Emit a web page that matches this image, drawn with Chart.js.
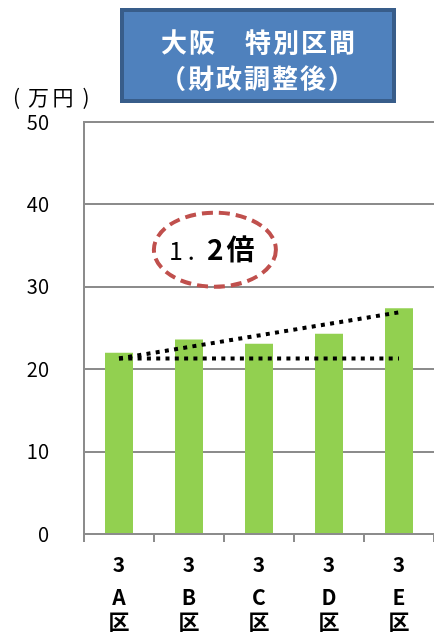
<!DOCTYPE html>
<html><head><meta charset="utf-8">
<script src="https://cdn.jsdelivr.net/npm/chart.js@4"></script>
<style>html,body{margin:0;padding:0;background:#fff;overflow:hidden}#wrap{width:434px;height:633px}</style>
</head><body><div id="wrap"><canvas id="c" width="434" height="633"></canvas></div>
<script>
const categories = ['A', 'B', 'C', 'D', 'E'];
const catPrefix = '3';
const catSuffix = '区';
const values = [22.0, 23.6, 23.1, 24.3, 27.4];
const flatLine = [21.3, 21.3, 21.3, 21.3, 21.3];
const trendLine = [21.3, null, null, null, 26.9];
const yTicks = [0, 10, 20, 30, 40, 50];
const titleLines = ['大阪\u3000特別区間', '（財政調整後）'];
const unitParts = ['(', '万', '円', ')'];
const ratioMain = '1.';
const ratioBold = '2倍';

const CJK = '"Noto Sans CJK JP", "DejaVu Sans", sans-serif';

const decor = {
  id: 'decor',
  afterDatasetsDraw(chart) {
    const ctx = chart.ctx;
    const x = chart.scales.x, y = chart.scales.y;
    const cx = x.getPixelForValue(1.37), cy = y.getPixelForValue(34.5);
    ctx.save();
    ctx.beginPath();
    ctx.ellipse(cx, cy, 61, 37, 0, 0, Math.PI * 2);
    ctx.strokeStyle = '#C0504D';
    ctx.lineWidth = 4;
    ctx.setLineDash([11, 6]);
    ctx.stroke();
    ctx.setLineDash([]);
    ctx.fillStyle = '#000';
    ctx.textBaseline = 'middle';
    ctx.textAlign = 'left';
    ctx.font = '400 25px ' + CJK;
    ctx.letterSpacing = '5px';
    ctx.fillText(ratioMain, cx - 46, cy + 1);
    ctx.font = '700 28px ' + CJK;
    ctx.letterSpacing = '3px';
    ctx.fillText(ratioBold, cx - 8, cy);
    ctx.restore();
  },
  afterDraw(chart) {
    const ctx = chart.ctx;
    ctx.save();
    ctx.fillStyle = '#4F81BD';
    ctx.fillRect(121, 9, 274, 93);
    ctx.strokeStyle = '#385D8A';
    ctx.lineWidth = 4;
    ctx.strokeRect(122, 10, 272, 91);
    ctx.fillStyle = '#fff';
    ctx.font = '700 26px ' + CJK;
    ctx.letterSpacing = '2px';
    ctx.textAlign = 'center';
    ctx.textBaseline = 'middle';
    ctx.fillText(titleLines[0], 259, 42);
    ctx.fillText(titleLines[1], 258, 78);
    ctx.fillStyle = '#000';
    ctx.letterSpacing = '0px';
    ctx.font = '400 21px ' + CJK;
    const ux = [16.5, 38.5, 63, 86];
    unitParts.forEach((t, i) => ctx.fillText(t, ux[i], 97));
    ctx.restore();
  }
};

new Chart(document.getElementById('c'), {
  type: 'bar',
  data: {
    labels: categories,
    datasets: [
      { type: 'line', data: flatLine, borderColor: '#000', borderWidth: 4, borderDash: [4, 5.3], pointRadius: 0, fill: false, order: 0, tension: 0 },
      { type: 'line', data: trendLine, borderColor: '#000', borderWidth: 4, borderDash: [4, 5.3], pointRadius: 0, fill: false, order: 0, spanGaps: true, tension: 0 },
      { type: 'bar', data: values, backgroundColor: '#92D050', borderWidth: 0, barPercentage: 0.4, categoryPercentage: 1.0, order: 1 }
    ]
  },
  options: {
    responsive: false,
    animation: false,
    devicePixelRatio: 1,
    layout: { padding: { top: 122, left: 0, right: 0, bottom: 0 } },
    plugins: { legend: { display: false }, tooltip: { enabled: false }, title: { display: false } },
    scales: {
      y: {
        min: 0, max: 50,
        afterFit(s) { s.width = 84; },
        afterBuildTicks(s) { s.ticks = yTicks.map(v => ({ value: v })); },
        grid: { color: '#8C8C8C', lineWidth: 2, drawTicks: false },
        border: { color: '#8C8C8C', width: 2 },
        ticks: { padding: 35, color: '#000', font: { family: CJK, size: 20 } }
      },
      x: {
        weight: 0,
        afterFit(s) { s.height = 42; },
        grid: { display: true, drawOnChartArea: false, drawTicks: true, tickLength: 8, color: '#8C8C8C', lineWidth: 2, offset: true },
        border: { color: '#8C8C8C', width: 2 },
        ticks: { padding: 9, color: '#000', font: { family: CJK, size: 21, weight: '700' }, callback: () => catPrefix, maxRotation: 0, autoSkip: false }
      },
      x2: {
        type: 'category',
        position: 'bottom',
        weight: 1,
        labels: categories,
        afterFit(s) { s.height = 57; },
        grid: { display: false, drawTicks: false },
        border: { display: false },
        ticks: { padding: 9, color: '#000', font: { family: CJK, size: 21, weight: '700', lineHeight: 1.15 }, callback: (v, i) => [categories[i], catSuffix], maxRotation: 0, autoSkip: false }
      }
    }
  },
  plugins: [decor]
});
</script></body></html>
